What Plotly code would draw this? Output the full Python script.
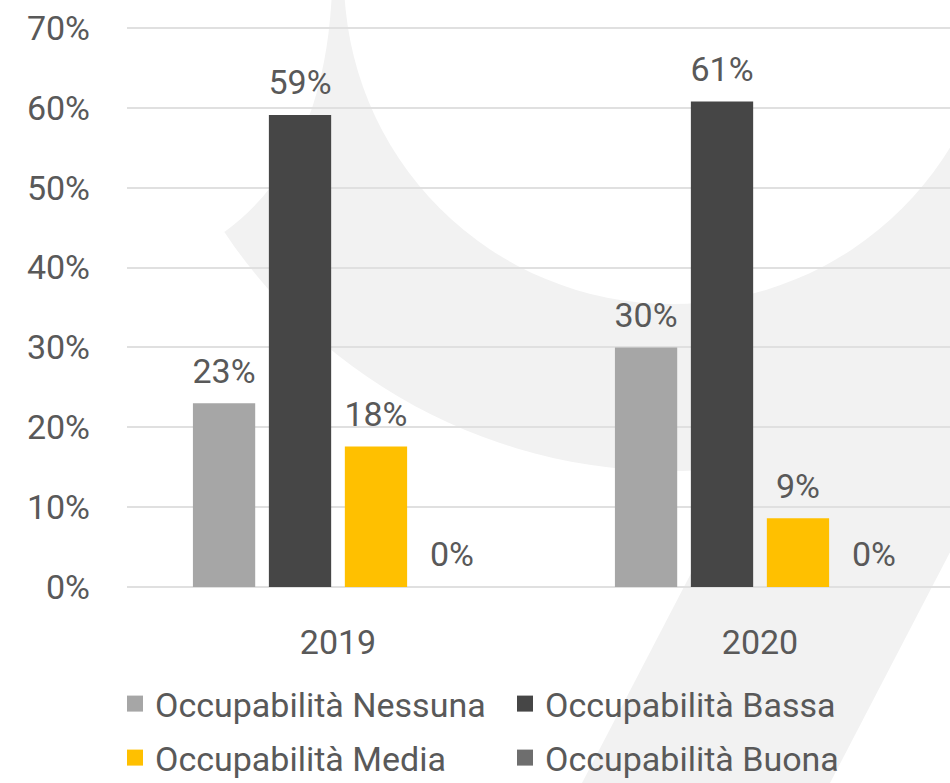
import numpy as np
import plotly.graph_objects as go

# ---------------- data ----------------
years = ["2019", "2020"]
series_names = ["Occupabilità Nessuna", "Occupabilità Bassa",
                "Occupabilità Media", "Occupabilità Buona"]
nessuna = [0.23, 0.30]
bassa = [0.591, 0.608]
media = [0.176, 0.086]
buona = [0.0, 0.0]
tick_vals = [0, 0.1, 0.2, 0.3, 0.4, 0.5, 0.6, 0.7]
tick_text = ["0%", "10%", "20%", "30%", "40%", "50%", "60%", "70%"]

series_values = [nessuna, bassa, media, buona]
colors = ["#A6A6A6", "#464646", "#FFC000", "#6E6E6E"]
legend_ids = ["legend", "legend2", "legend3", "legend4"]

FONT = "Roboto, 'Open Sans', sans-serif"
TXT = "#595959"
FS = 34

# figure geometry (pixels)
W, H = 950, 783
L, R, T, B = 127, 0, 26, 194
PW, PH = W - L - R, H - T - B
CAT_PX = 422  # pixel width of one category
Y_PAD = 0.0025

fig = go.Figure()

for name, vals, col in zip(series_names, series_values, colors):
    fig.add_trace(go.Bar(
        x=years, y=vals, name=name, marker=dict(color=col, line=dict(width=0)),
        showlegend=False, hoverinfo="x+y"))

# value labels (grouped scatter so they sit over each bar)
for name, vals in zip(series_names, series_values):
    fig.add_trace(go.Scatter(
        x=years, y=vals, mode="markers+text", orientation="v",
        texttemplate="%{y:.0%}", textposition="top center",
        textfont=dict(family=FONT, size=FS, color=TXT),
        marker=dict(size=18, opacity=0), showlegend=False,
        hoverinfo="skip", cliponaxis=False))

# legend entries (bigger square symbols)
for name, col, lg in zip(series_names, colors, legend_ids):
    fig.add_trace(go.Scatter(
        x=[None], y=[None], mode="markers", name=name,
        marker=dict(symbol="square", size=20, color=col),
        xaxis="x2", yaxis="y2", legend=lg, hoverinfo="skip"))


# ---------------- background watermark ----------------
def px2paper(x, y):
    return (x - L) / PW, (H - B - y) / PH


def P(x, y):
    a, b = px2paper(x, y)
    return f"{a:.5f},{b:.5f}"


c1x, c1y, r1 = 671, -66, 537
t0 = np.arctan2(232 - c1y, 224 - c1x)
thetas = np.linspace(t0, -0.18, 80)
arc = " ".join("L" + P(c1x + r1 * np.cos(t), c1y + r1 * np.sin(t)) for t in thetas)
ring_path = ("M" + P(332, -160) + " L" + P(332, -10) + " Q" + P(325, 160) + " "
             + P(223, 233) + " " + arc + " L" + P(1300, -160) + " Z")


def sx(y):
    return 0.52 * (783 - y)


stripe_path = ("M" + P(582 + sx(820), 820) + " L" + P(830 + sx(820), 820)
               + " L" + P(830 + sx(-60), -60) + " L" + P(582 + sx(-60), -60) + " Z")

c2x, c2y, r2 = 671, -23, 327
cx0, cy0 = px2paper(c2x - r2, c2y + r2)
cx1, cy1 = px2paper(c2x + r2, c2y - r2)
shapes = [
    dict(type="path", path=ring_path, xref="paper", yref="paper",
         fillcolor="#F2F2F2", line=dict(width=0), layer="below"),
    dict(type="path", path=stripe_path, xref="paper", yref="paper",
         fillcolor="#F2F2F2", line=dict(width=0), layer="below"),
    dict(type="circle", xref="paper", yref="paper",
         x0=cx0, x1=cx1, y0=cy0, y1=cy1,
         fillcolor="#FFFFFF", line=dict(width=0), layer="below"),
]


# ---------------- layout ----------------
def legend_box(px_x, px_y):
    lx, ly = px2paper(px_x, px_y)
    return dict(x=lx, y=ly, xanchor="left",
                yanchor="middle", orientation="h", bgcolor="rgba(0,0,0,0)",
                borderwidth=0, font=dict(family=FONT, size=FS, color=TXT))


fig.update_layout(
    width=W, height=H, autosize=False,
    margin=dict(l=L, r=R, t=T, b=B, pad=0, autoexpand=False),
    paper_bgcolor="#FFFFFF", plot_bgcolor="rgba(0,0,0,0)",
    font=dict(family=FONT, size=FS, color=TXT),
    barmode="group", bargap=0.28, bargroupgap=0.18,
    scattermode="group", scattergap=0.28,
    shapes=shapes,
    xaxis=dict(type="category", range=[-0.5, -0.5 + PW / CAT_PX],
               showgrid=False, zeroline=False, showline=False,
               ticks="", tickfont=dict(family=FONT, size=FS, color=TXT),
               ticklabelstandoff=30, fixedrange=True),
    yaxis=dict(range=[-Y_PAD, 0.7 + Y_PAD], tickvals=tick_vals, ticktext=tick_text,
               showgrid=True, gridcolor="#E0E0E0", gridwidth=1.5,
               zeroline=False, showline=False, ticks="",
               tickfont=dict(family=FONT, size=FS, color=TXT),
               ticklabelstandoff=36, fixedrange=True),
    xaxis2=dict(overlaying="x", visible=False),
    yaxis2=dict(overlaying="y", visible=False),
    legend=legend_box(115, 704),
    legend2=legend_box(505, 704),
    legend3=legend_box(115, 758),
    legend4=legend_box(505, 758),
    showlegend=True,
)

fig.write_html(
    "out.html",
    config={"displayModeBar": False},
    post_script="document.body.style.margin='0';document.body.style.overflow='hidden';",
)
